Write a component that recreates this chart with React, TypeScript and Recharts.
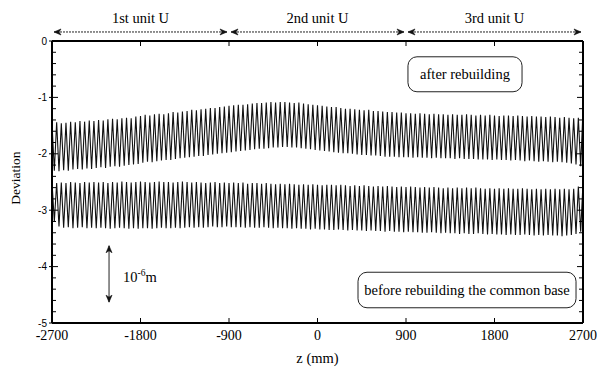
import { LineChart, Line, XAxis, YAxis, ReferenceLine, ReferenceArea } from 'recharts';

const Z_MIN = -2700;
const Z_MAX = 2700;

const X_TICKS = [-2700, -1800, -900, 0, 900, 1800, 2700];
const Y_TICKS = [-5, -4.8, -4.6, -4.4, -4.2, -4, -3.8, -3.6, -3.4, -3.2, -3, -2.8, -2.6, -2.4, -2.2, -2, -1.8, -1.6, -1.4, -1.2, -1, -0.8, -0.6, -0.4, -0.2, 0];
const Y_LABELS = [-5, -4, -3, -2, -1, 0];

const UNIT_BOUNDS = [-2700, -900, 900, 2700];
const UNIT_NAMES = ['1st unit U', '2nd unit U', '3rd unit U'];

// after rebuilding: crests and troughs of the zigzag, left to right
const AFTER_PEAKS = [
  -1.46, -1.44, -1.46, -1.45, -1.43, -1.44, -1.42, -1.43, -1.41, -1.42,
  -1.40, -1.41, -1.39, -1.38, -1.39, -1.37, -1.36, -1.37, -1.34, -1.33,
  -1.31, -1.32, -1.30, -1.29, -1.30, -1.28, -1.26, -1.27, -1.25, -1.24,
  -1.22, -1.23, -1.21, -1.20, -1.19, -1.19, -1.17, -1.16, -1.15, -1.14,
  -1.13, -1.13, -1.12, -1.11, -1.10, -1.10, -1.09, -1.08, -1.09, -1.08,
  -1.08, -1.09, -1.10, -1.09, -1.11, -1.12, -1.13, -1.14, -1.15, -1.16,
  -1.17, -1.17, -1.19, -1.20, -1.20, -1.21, -1.22, -1.23, -1.22, -1.24,
  -1.24, -1.25, -1.26, -1.26, -1.27, -1.27, -1.28, -1.28, -1.29, -1.28,
  -1.29, -1.30, -1.29, -1.30, -1.30, -1.31, -1.30, -1.31, -1.31, -1.30,
  -1.31, -1.32, -1.31, -1.32, -1.31, -1.32, -1.33, -1.32, -1.32, -1.33,
  -1.32, -1.33, -1.34, -1.33, -1.34, -1.34, -1.35, -1.34, -1.35, -1.36,
  -1.35, -1.36, -1.37, -1.36, -1.22,
];
const AFTER_TROUGHS = [
  -2.30, -2.31, -2.29, -2.30, -2.28, -2.27, -2.28, -2.26, -2.27, -2.25,
  -2.24, -2.25, -2.23, -2.22, -2.23, -2.21, -2.20, -2.19, -2.18, -2.16,
  -2.14, -2.15, -2.13, -2.12, -2.11, -2.11, -2.09, -2.08, -2.07, -2.06,
  -2.05, -2.04, -2.04, -2.02, -2.01, -2.00, -1.99, -1.98, -1.97, -1.96,
  -1.95, -1.94, -1.93, -1.92, -1.91, -1.91, -1.90, -1.89, -1.89, -1.88,
  -1.88, -1.89, -1.89, -1.90, -1.91, -1.92, -1.93, -1.94, -1.95, -1.96,
  -1.97, -1.98, -1.99, -1.99, -2.00, -2.01, -2.02, -2.02, -2.03, -2.03,
  -2.04, -2.05, -2.05, -2.05, -2.06, -2.06, -2.06, -2.07, -2.06, -2.07,
  -2.07, -2.08, -2.07, -2.08, -2.08, -2.08, -2.09, -2.08, -2.09, -2.09,
  -2.09, -2.10, -2.10, -2.10, -2.11, -2.10, -2.11, -2.11, -2.12, -2.11,
  -2.12, -2.13, -2.12, -2.13, -2.14, -2.13, -2.14, -2.15, -2.14, -2.15,
  -2.16, -2.17, -2.19, -2.22,
];

// before rebuilding the common base
const BEFORE_PEAKS = [
  -2.50, -2.52, -2.51, -2.52, -2.50, -2.51, -2.52, -2.50, -2.51, -2.50,
  -2.51, -2.50, -2.52, -2.50, -2.51, -2.49, -2.50, -2.51, -2.50, -2.49,
  -2.50, -2.51, -2.50, -2.49, -2.50, -2.50, -2.51, -2.50, -2.49, -2.50,
  -2.51, -2.50, -2.51, -2.52, -2.51, -2.50, -2.52, -2.51, -2.52, -2.51,
  -2.52, -2.51, -2.53, -2.52, -2.52, -2.53, -2.52, -2.53, -2.54, -2.53,
  -2.54, -2.53, -2.54, -2.55, -2.54, -2.55, -2.54, -2.55, -2.56, -2.55,
  -2.55, -2.56, -2.55, -2.56, -2.57, -2.56, -2.57, -2.56, -2.57, -2.58,
  -2.57, -2.58, -2.57, -2.58, -2.59, -2.58, -2.59, -2.58, -2.59, -2.60,
  -2.59, -2.60, -2.59, -2.60, -2.61, -2.60, -2.61, -2.60, -2.61, -2.60,
  -2.61, -2.60, -2.61, -2.62, -2.61, -2.62, -2.61, -2.62, -2.61, -2.62,
  -2.62, -2.61, -2.62, -2.63, -2.62, -2.63, -2.62, -2.63, -2.62, -2.63,
  -2.62, -2.63, -2.62, -2.58, -2.52,
];
const BEFORE_TROUGHS = [
  -3.20, -3.29, -3.31, -3.30, -3.32, -3.31, -3.30, -3.32, -3.31, -3.32,
  -3.31, -3.32, -3.33, -3.32, -3.31, -3.32, -3.33, -3.32, -3.33, -3.32,
  -3.32, -3.33, -3.32, -3.31, -3.32, -3.32, -3.31, -3.32, -3.31, -3.30,
  -3.31, -3.30, -3.31, -3.30, -3.29, -3.30, -3.30, -3.29, -3.30, -3.30,
  -3.30, -3.31, -3.30, -3.31, -3.31, -3.30, -3.31, -3.32, -3.31, -3.32,
  -3.32, -3.33, -3.32, -3.33, -3.33, -3.34, -3.33, -3.34, -3.34, -3.35,
  -3.35, -3.34, -3.35, -3.36, -3.35, -3.36, -3.36, -3.37, -3.36, -3.37,
  -3.37, -3.38, -3.37, -3.38, -3.38, -3.39, -3.38, -3.39, -3.39, -3.40,
  -3.40, -3.39, -3.40, -3.41, -3.40, -3.41, -3.41, -3.42, -3.41, -3.42,
  -3.42, -3.41, -3.42, -3.43, -3.42, -3.43, -3.43, -3.44, -3.43, -3.44,
  -3.44, -3.43, -3.44, -3.45, -3.44, -3.45, -3.44, -3.45, -3.45, -3.46,
  -3.45, -3.44, -3.42, -3.38,
];

// annotation placement, in data units
const AFTER_BOX = { z1: 920, z2: 2080, y1: -0.28, y2: -0.9, text: 'after rebuilding' };
const BEFORE_BOX = { z1: 412, z2: 2629, y1: -4.1, y2: -4.73, text: 'before rebuilding the common base' };
const SCALE_BAR = { z: -2120, top: -3.63, bottom: -4.63 };
const UNIT_ARROW_Y = 0.16;

const SERIF = '"Liberation Serif", "Times New Roman", serif';
const SANS = '"Liberation Sans", Arial, sans-serif';

const points = AFTER_PEAKS.length + AFTER_TROUGHS.length;
const step = (Z_MAX - Z_MIN) / (points - 1);
const data = Array.from({ length: points }, (_, k) => ({
  z: Z_MIN + k * step,
  after: k % 2 === 0 ? AFTER_PEAKS[k / 2] : AFTER_TROUGHS[(k - 1) / 2],
  before: k % 2 === 0 ? BEFORE_PEAKS[k / 2] : BEFORE_TROUGHS[(k - 1) / 2],
}));

function head(tx: number, ty: number, ux: number, uy: number) {
  // tip at (tx,ty), (ux,uy) points back along the shaft
  const px = -uy, py = ux;
  const L = 7, W = 3, N = 5;
  const d = `M${tx},${ty} L${tx + ux * L + px * W},${ty + uy * L + py * W} L${tx + ux * N},${ty + uy * N} L${tx + ux * L - px * W},${ty + uy * L - py * W} Z`;
  return <path d={d} fill="#111" stroke="#111" strokeWidth={0.6} />;
}

function DoubleArrow({ x1, y1, x2, y2, inset = 0, dashed = false }: any) {
  const len = Math.hypot(x2 - x1, y2 - y1) || 1;
  const ux = (x2 - x1) / len, uy = (y2 - y1) / len;
  const ax = x1 + ux * inset, ay = y1 + uy * inset;
  const bx = x2 - ux * inset, by = y2 - uy * inset;
  return (
    <g>
      <line x1={ax} y1={ay} x2={bx} y2={by} stroke="#222" strokeWidth={1} strokeDasharray={dashed ? '2 1' : undefined} />
      {head(ax, ay, ux, uy)}
      {head(bx, by, -ux, -uy)}
    </g>
  );
}

function LeftTick({ x, y, payload }: any) {
  const major = Y_LABELS.includes(payload.value);
  return (
    <g>
      <line x1={major ? x - 3 : x} y1={y} x2={x + (major ? 6 : 4)} y2={y} stroke="#000" strokeWidth={1} />
      {major && (
        <text x={x - 5} y={y + 3.5} textAnchor="end" fontSize={10} fontFamily={SANS} fill="#000">
          {payload.value}
        </text>
      )}
    </g>
  );
}

function RightTick({ x, y, payload }: any) {
  const major = Y_LABELS.includes(payload.value);
  return <line x1={x} y1={y} x2={x - (major ? 6 : 4)} y2={y} stroke="#000" strokeWidth={1} />;
}

function BottomTick({ x, y, payload }: any) {
  return (
    <g>
      <line x1={x} y1={y} x2={x} y2={y - 5} stroke="#000" strokeWidth={1} />
      <text x={x} y={y + 17} textAnchor="middle" fontSize={14} fontFamily={SERIF} fill="#000">
        {payload.value}
      </text>
    </g>
  );
}

function TopTick({ x, y }: any) {
  return <line x1={x} y1={y} x2={x} y2={y + 5} stroke="#000" strokeWidth={1} />;
}

function RoundBox({ x, y, width, height }: any) {
  return <rect x={x} y={y} width={width} height={height} rx={9} ry={9} fill="#fff" stroke="#222" strokeWidth={1} />;
}

export default function App() {
  return (
    <div style={{ position: 'absolute', left: 0, top: 0, width: 597, height: 367, background: '#fff', fontFamily: SERIF }}>
      <LineChart width={597} height={367} data={data} margin={{ top: 40, right: 0, bottom: 0, left: 0 }}>
        <XAxis
          dataKey="z"
          type="number"
          domain={[Z_MIN, Z_MAX]}
          ticks={X_TICKS}
          interval={0}
          height={44}
          tickSize={0}
          tickMargin={0}
          tickLine={false}
          tick={BottomTick}
          axisLine={{ stroke: '#000', strokeWidth: 2 }}
          label={{ value: 'z (mm)', position: 'insideBottom', offset: 4, fontSize: 14.5, fill: '#000', fontFamily: SERIF }}
        />
        <XAxis
          xAxisId="top"
          orientation="top"
          dataKey="z"
          type="number"
          domain={[Z_MIN, Z_MAX]}
          ticks={X_TICKS}
          interval={0}
          height={1}
          tickSize={0}
          tickMargin={0}
          tickLine={false}
          tick={TopTick}
          axisLine={{ stroke: '#000', strokeWidth: 2 }}
        />
        <YAxis
          type="number"
          domain={[-5, 0]}
          ticks={Y_TICKS}
          interval={0}
          width={52}
          tickSize={0}
          tickMargin={0}
          tickLine={false}
          tick={LeftTick}
          axisLine={{ stroke: '#000', strokeWidth: 2 }}
          label={{
            content: ({ viewBox }: any) => {
              const cx = viewBox.x + 15;
              const cy = viewBox.y + viewBox.height / 2 - 4;
              return (
                <text x={cx} y={cy} transform={`rotate(-90, ${cx}, ${cy})`} textAnchor="middle" dominantBaseline="central" fontSize={13.5} fontFamily={SERIF} fill="#000">
                  Deviation
                </text>
              );
            },
          }}
        />
        <YAxis
          yAxisId="right"
          orientation="right"
          type="number"
          domain={[-5, 0]}
          ticks={Y_TICKS}
          interval={0}
          width={14}
          tickSize={0}
          tickMargin={0}
          tickLine={false}
          tick={RightTick}
          axisLine={{ stroke: '#000', strokeWidth: 2 }}
        />
        <Line
          xAxisId="top"
          yAxisId="right"
          type="linear"
          dataKey="after"
          stroke="#111"
          strokeWidth={1.1}
          dot={false}
          activeDot={false}
          isAnimationActive={false}
        />
        <Line
          type="linear"
          dataKey="before"
          stroke="#111"
          strokeWidth={1.1}
          dot={false}
          activeDot={false}
          isAnimationActive={false}
        />
        {UNIT_NAMES.map((name, i) => (
          <ReferenceLine
            key={name}
            ifOverflow="visible"
            segment={[
              { x: UNIT_BOUNDS[i], y: UNIT_ARROW_Y },
              { x: UNIT_BOUNDS[i + 1], y: UNIT_ARROW_Y },
            ]}
            shape={(p: any) => (
              <g>
                <DoubleArrow {...p} inset={2} dashed />
                <text x={(p.x1 + p.x2) / 2} y={p.y1 - 9} textAnchor="middle" fontSize={14.5} fontFamily={SERIF} fill="#000">
                  {name}
                </text>
              </g>
            )}
          />
        ))}
        <ReferenceLine
          ifOverflow="visible"
          segment={[
            { x: SCALE_BAR.z, y: SCALE_BAR.top },
            { x: SCALE_BAR.z, y: SCALE_BAR.bottom },
          ]}
          shape={(p: any) => (
            <g>
              <DoubleArrow {...p} />
              <text x={p.x1 + 14} y={(p.y1 + p.y2) / 2 + 8} fontSize={14.5} fontFamily={SERIF} fill="#000">
                10
                <tspan dy={-6} fontSize={9.5}>-6</tspan>
                <tspan dy={6} fontSize={14.5}>m</tspan>
              </text>
            </g>
          )}
        />
        {[AFTER_BOX, BEFORE_BOX].map((b) => (
          <ReferenceArea
            key={b.text}
            x1={b.z1}
            x2={b.z2}
            y1={b.y1}
            y2={b.y2}
            ifOverflow="visible"
            shape={RoundBox}
            label={{ value: b.text, position: 'center', fontSize: 14.5, fill: '#000', fontFamily: SERIF }}
          />
        ))}
      </LineChart>
    </div>
  );
}
